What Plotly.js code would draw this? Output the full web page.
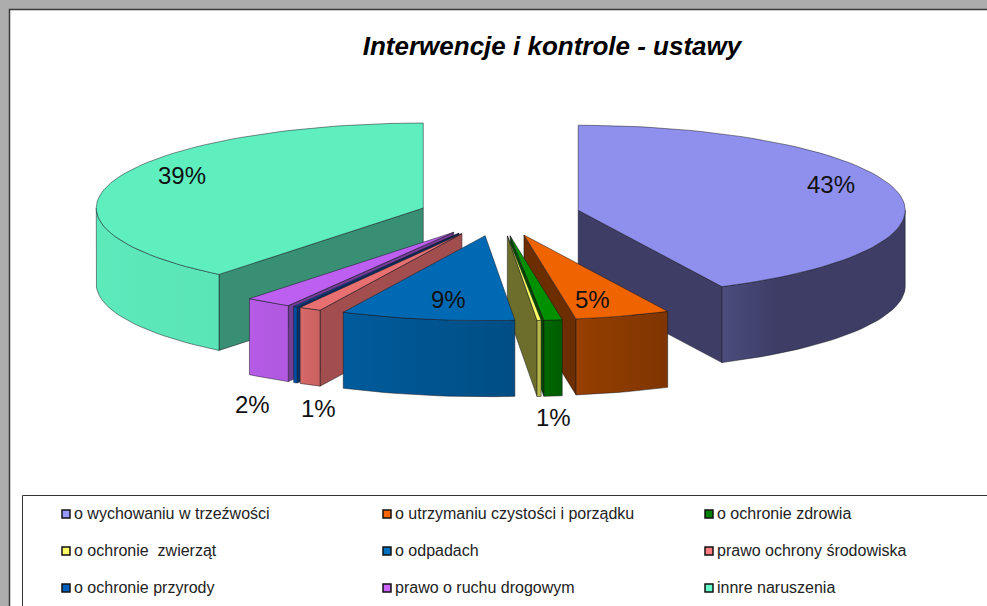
<!DOCTYPE html>
<html><head><meta charset="utf-8">
<script src="https://cdn.plot.ly/plotly-3.0.1.min.js"></script>
<style>html,body{margin:0;padding:0;background:#adadad}#c{width:987px;height:606px}</style>
</head><body><div id="c"></div>
<script>
// ---- data ----
const categories = ['o wychowaniu w trzeźwości','o utrzymaniu czystości i porządku','o ochronie zdrowia',
  'o ochronie  zwierząt','o odpadach','prawo ochrony środowiska','o ochronie przyrody','prawo o ruchu drogowym','innre naruszenia'];
const values = [42.8, 4.7, 0.9, 0.2, 8.6, 1.1, 0.2, 2.3, 39.3];
const dataLabels = ['43%','5%','1%','9%','1%','2%','39%'];
// ---- style / layout ----
const colors = ['#8f8fee','#f06400','#009000','#ffff66','#0069b3','#e87070','#0055b0','#bd5ff0','#5fefbf'];
const swatches = ['#9999ff','#ff6600','#008000','#ffff66','#0070c0','#ff7c80','#0060c0','#cc66ff','#66ffcc'];
const cutShade = [.43,.45,.5,.43,.6,.7,.6,.62,.6];
const labelX = [831,592,553,448,318,252,182], labelY = [184,299,417,299,408,404,175];
const legendX = [66,387,709], legendY = [514,551,588];
const cx=499.5, cy=215, rx=327, ry=85, pull=.247, depth=76;
const shadeT=[90,143,154,170,175,206,210,219,270], shadeF=[.42,.43,.53,.62,.74,.87,.93,.96,.98];

const rad=d=>d*Math.PI/180;
function shade(t){ for(let i=1;i<shadeT.length;i++) if(t<=shadeT[i]){const f=(t-shadeT[i-1])/(shadeT[i]-shadeT[i-1]);return shadeF[i-1]+f*(shadeF[i]-shadeF[i-1]);} return shadeF[shadeF.length-1]; }
function mul(hex,f){const n=parseInt(hex.slice(1),16);return `rgb(${Math.round((n>>16&255)*f)},${Math.round((n>>8&255)*f)},${Math.round((n&255)*f)})`;}

const total=values.reduce((a,b)=>a+b,0);
let acc=0;
const slices=values.map((v,i)=>{const a=acc/total*360;acc+=v;const b=acc/total*360;const m=(a+b)/2;
  return {i,a,b,ox:cx+pull*rx*Math.sin(rad(m)),oy:cy-pull*ry*Math.cos(rad(m))};});
const pt=(s,t,dz=0)=>[s.ox+rx*Math.sin(rad(t)),s.oy-ry*Math.cos(rad(t))+dz];
const traces=[];
const EDGE='rgba(20,20,30,.7)';
function poly(pts,color,name,grad){
  const tr={type:'scatter',mode:'lines',x:pts.map(p=>p[0]),y:pts.map(p=>p[1]),fill:'toself',fillcolor:color,
    line:{color:EDGE,width:.7},hoverinfo:'skip',showlegend:false,name};
  if(grad) tr.fillgradient=grad;
  traces.push(tr);
}
function drawSlice(s){
  const col=colors[s.i], name=categories[s.i];
  const tip=[s.ox,s.oy], tipB=[s.ox,s.oy+depth];
  // cut faces
  if(s.a>180 && s.a<360){const p=pt(s,s.a),q=pt(s,s.a,depth);poly([tip,p,q,tipB,tip],mul(col,cutShade[s.i]),name);}
  if(s.b<180){const p=pt(s,s.b),q=pt(s,s.b,depth);poly([tip,p,q,tipB,tip],mul(col,cutShade[s.i]),name);}
  // outer wall (visible part, t in 90..270)
  const t0=Math.max(s.a,90),t1=Math.min(s.b,270);
  if(t1>t0){
    const top=[],bot=[],n=Math.max(4,Math.ceil((t1-t0)/2));
    for(let k=0;k<=n;k++){const t=t0+(t1-t0)*k/n;top.push(pt(s,t));bot.unshift(pt(s,t,depth));}
    const pts=top.concat(bot,[top[0]]);
    const xs=pts.map(p=>p[0]),xa=Math.min(...xs),xb=Math.max(...xs);
    const scale=[];
    const tAt=x=>{const sv=(x-s.ox)/rx;const base=Math.asin(Math.max(-1,Math.min(1,sv)))*180/Math.PI;return 180-base;};
    for(let k=0;k<=10;k++){const x=xa+(xb-xa)*k/10;scale.push([k/10,mul(col,shade(Math.max(90,Math.min(270,tAt(x)))))]);}
    poly(pts,col,name,{type:'horizontal',start:xa,stop:xb,colorscale:scale});
  }
  // top face
  const arc=[tip];const n=Math.max(4,Math.ceil((s.b-s.a)/2));
  for(let k=0;k<=n;k++)arc.push(pt(s,s.a+(s.b-s.a)*k/n));arc.push(tip);
  poly(arc,col,name);
}
// painter's order: back slices first
[0,1,2,3,8,7,6,5,4].forEach(i=>drawSlice(slices[i]));

// legend swatches
const lx=[],ly=[];categories.forEach((c,i)=>{lx.push(legendX[i%3]);ly.push(legendY[Math.floor(i/3)]);});
traces.push({type:'scatter',mode:'markers',x:lx,y:ly,marker:{symbol:'square',size:8,color:swatches,line:{color:'#111',width:1.5}},hoverinfo:'skip',showlegend:false,name:'legend'});

const annotations=[];
dataLabels.forEach((t,i)=>annotations.push({x:labelX[i],y:labelY[i],text:t,showarrow:false,xanchor:'center',yanchor:'middle',xref:'x',yref:'y',font:{family:'Liberation Sans',size:24,color:'#111'}}));
categories.forEach((t,i)=>annotations.push({x:lx[i]+6,y:ly[i]-1,text:t.replace(/  /g,' \u00a0'),showarrow:false,xanchor:'left',yanchor:'middle',xref:'x',yref:'y',font:{family:'Liberation Sans',size:16,color:'#222'}}));

const layout={width:987,height:606,margin:{l:0,r:0,t:0,b:0},paper_bgcolor:'#adadad',plot_bgcolor:'rgba(0,0,0,0)',showlegend:false,
  title:{text:'Interwencje i kontrole - ustawy',x:552/987,y:1-46/606,xref:'paper',yref:'paper',xanchor:'center',yanchor:'middle',font:{family:'Liberation Sans',size:26,weight:700,style:'italic',color:'#000'}},
  xaxis:{range:[0,987],visible:false,fixedrange:true},
  yaxis:{range:[606,0],visible:false,fixedrange:true},
  annotations,
  shapes:[
    {type:'rect',layer:'below',xref:'x',yref:'y',x0:9.5,y0:9.5,x1:1000,y1:620,fillcolor:'#fff',line:{color:'#3a3a3a',width:1.5}},
    {type:'rect',layer:'below',xref:'x',yref:'y',x0:22.5,y0:495.5,x1:1000,y1:620,fillcolor:'#fff',line:{color:'#333',width:1}}
  ]};
Plotly.newPlot('c',traces,layout,{displayModeBar:false,staticPlot:true});
</script></body></html>
